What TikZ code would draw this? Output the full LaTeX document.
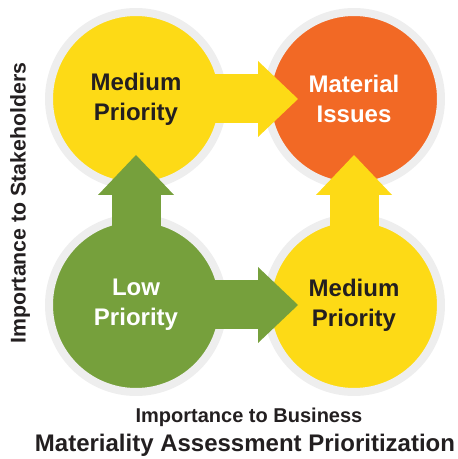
\documentclass[tikz,border=0pt]{standalone}
\usepackage{fontspec}
\setmainfont{Liberation Sans}
\usetikzlibrary{arrows.meta}

\definecolor{prioyellow}{HTML}{FDDA16}
\definecolor{priogreen}{HTML}{76A03C}
\definecolor{prioorange}{HTML}{F26925}
\definecolor{ringgrey}{HTML}{EEEEEE}
\definecolor{textdark}{HTML}{231F20}

\tikzset{
  prio/.style={circle, minimum size=174pt, inner sep=0pt, outer sep=0pt,
    draw=ringgrey, line width=8pt, align=center,
    font=\fontsize{24}{30}\selectfont\bfseries},
  bigarrow/.style={line width=49pt, shorten <=-8pt, shorten >=-31pt,
    -{Triangle[length=40pt 0 0, width=76pt 0 0, line width=0pt 0 0]}}
}

\begin{document}
\begin{tikzpicture}[x=1pt,y=1pt]
    \useasboundingbox (0,0) rectangle (458,459);
    \node[prio, fill=prioyellow, text=textdark] (med1) at (136,360) {Medium\\Priority};
    \node[prio, fill=prioorange, text=white] (mat) at (354,360) {Material\\Issues};
    \node[prio, fill=priogreen, text=white] (low) at (136,154) {Low\\Priority};
    \node[prio, fill=prioyellow, text=textdark] (med2) at (354,154) {Medium\\Priority};
    \draw[bigarrow, prioyellow] (med1) -- (mat);
    \draw[bigarrow, priogreen] (low) -- (med1);
    \draw[bigarrow, priogreen] (low) -- (med2);
    \draw[bigarrow, prioyellow] (med2) -- (mat);
    \node[rotate=90, text=textdark, font=\fontsize{21.3}{25}\selectfont\bfseries] (ylab) at (20,256) {Importance to Stakeholders};
    \node[anchor=base, text=textdark, font=\fontsize{20}{24}\selectfont\bfseries] (xlab) at (249,37) {Importance to Business};
    \node[anchor=base, text=textdark, font=\fontsize{24}{28}\selectfont\bfseries] (title) at (245,7) {Materiality Assessment Prioritization};
\end{tikzpicture}
\end{document}
